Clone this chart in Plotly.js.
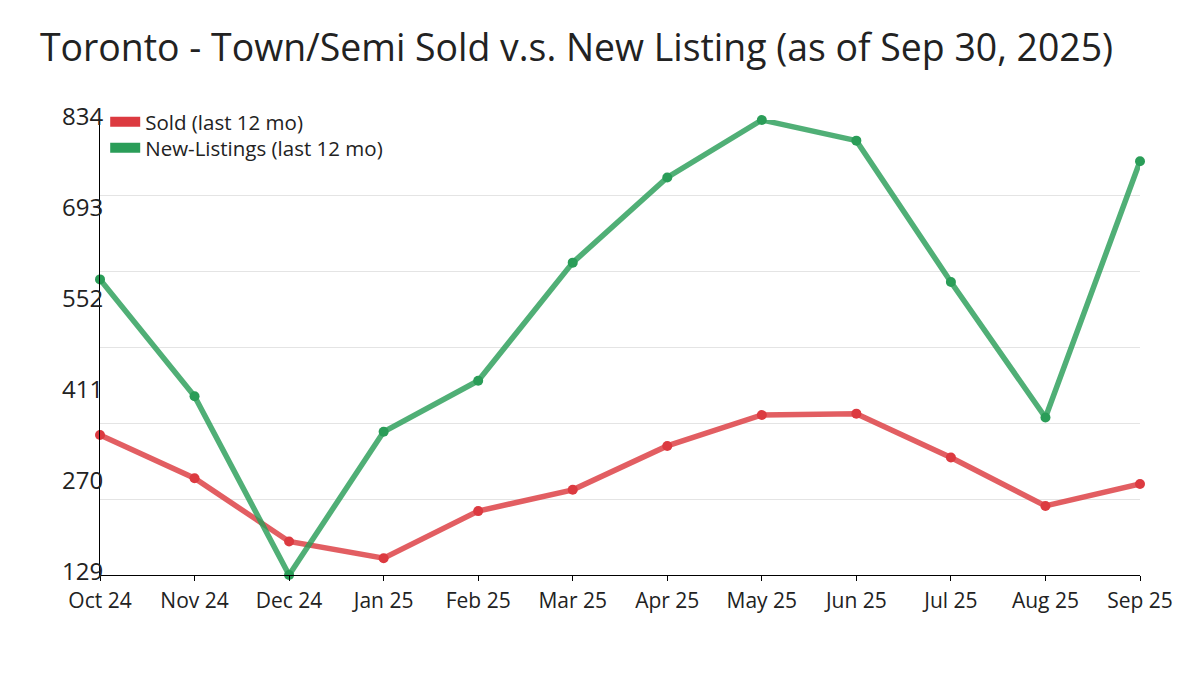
<!DOCTYPE html>
<html>
<head>
<meta charset="utf-8">
<script src="https://cdn.plot.ly/plotly-3.0.1.min.js"></script>
<style>html,body{margin:0;padding:0;background:#fff;}#chart{width:1200px;height:675px;}</style>
</head>
<body>
<div id="chart"></div>
<script>
const months = ["Oct 24","Nov 24","Dec 24","Jan 25","Feb 25","Mar 25","Apr 25","May 25","Jun 25","Jul 25","Aug 25","Sep 25"];
const sold = [346, 279, 181, 155, 228, 261, 329, 377, 379, 311, 236, 270];
const newListings = [587, 406, 129, 351, 430, 613, 745, 834, 802, 583, 373, 770];
const yTickVals = [129, 270, 411, 552, 693, 834];
const yMin = 129, yMax = 834;
const gridStep = (yMax - yMin) / 6;

const redSolid = '#dc3a40', redLine = 'rgba(220,58,64,0.82)';
const greenSolid = '#2a9d58', greenLine = 'rgba(42,157,88,0.82)';

const traces = [
  {x: months, y: [null], type: 'scatter', mode: 'lines', yaxis: 'y2', showlegend: false, hoverinfo: 'skip'},
  {x: months, y: sold, type: 'scatter', mode: 'lines+markers', name: 'Sold (last 12 mo)',
   line: {color: redLine, width: 5.5}, marker: {color: redSolid, size: 10}, showlegend: false, cliponaxis: false},
  {x: months, y: newListings, type: 'scatter', mode: 'lines+markers', name: 'New-Listings (last 12 mo)',
   line: {color: greenLine, width: 5.5}, marker: {color: greenSolid, size: 10}, showlegend: false, cliponaxis: false},
  {x: [null], y: [null], type: 'scatter', mode: 'lines', name: 'Sold (last 12 mo)', legend: 'legend',
   line: {color: redSolid, width: 12}, hoverinfo: 'skip'},
  {x: [null], y: [null], type: 'scatter', mode: 'lines', name: 'New-Listings (last 12 mo)', legend: 'legend2',
   line: {color: greenSolid, width: 12}, hoverinfo: 'skip'}
];

const legendBase = {xanchor: 'left', yanchor: 'middle', bgcolor: 'rgba(0,0,0,0)',
                    font: {size: 20.5, color: '#222'}, itemwidth: 30};

const layout = {
  width: 1200, height: 675,
  margin: {l: 100, r: 60, t: 120, b: 100},
  paper_bgcolor: '#fff', plot_bgcolor: '#fff',
  font: {family: 'Open Sans, sans-serif', color: '#222'},
  title: {text: 'Toronto - Town/Semi Sold v.s. New Listing (as of Sep 30, 2025)',
          x: 40/1200, xref: 'container', xanchor: 'left', y: 1 - 48/675, yref: 'container', yanchor: 'middle',
          font: {size: 37.4, color: '#222', family: 'Open Sans, sans-serif'}},
  showlegend: true,
  legend: Object.assign({}, legendBase, {x: 0.005, y: 1 - 2/455}),
  legend2: Object.assign({}, legendBase, {x: 0.005, y: 1 - 28/455}),
  xaxis: {type: 'category', range: [0, 11], showgrid: false, showline: true, linecolor: '#000', linewidth: 1,
          ticks: 'outside', ticklen: 5, tickcolor: '#000', tickfont: {size: 21, color: '#222'}, zeroline: false,
          ticklabelstandoff: 2, fixedrange: true},
  yaxis: {range: [yMin, yMax], tickmode: 'array', tickvals: yTickVals, ticktext: yTickVals.map(String),
          showgrid: false, showline: true, linecolor: '#000', linewidth: 1, ticks: '', zeroline: false,
          tickfont: {size: 24, color: '#222'}, ticklabelstandoff: -9, ticklabelshift: -3},
  yaxis2: {range: [yMin, yMax], overlaying: 'y', side: 'left', tick0: yMin, dtick: gridStep, showgrid: true, gridcolor: '#e4e4e4',
           gridwidth: 1, showticklabels: false, ticks: '', zeroline: false, showline: false}
};

Plotly.newPlot('chart', traces, layout, {displayModeBar: false, staticPlot: true});
</script>
</body>
</html>
